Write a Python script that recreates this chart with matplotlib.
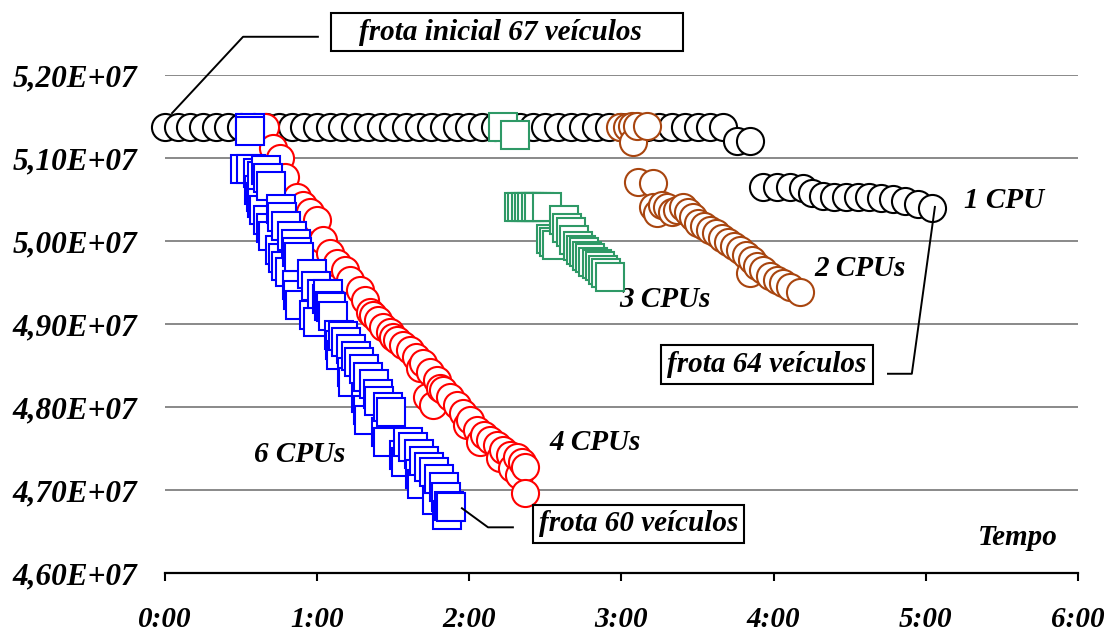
import numpy as np
import matplotlib
matplotlib.use('Agg')
import matplotlib.pyplot as plt
from matplotlib.ticker import FuncFormatter
from matplotlib.patches import Rectangle

plt.rcParams['font.family'] = ['Liberation Serif', 'DejaVu Serif']
plt.rcParams['font.weight'] = 'bold'
plt.rcParams['font.style'] = 'italic'

#------- dados (tempo em minutos, custo em unidades de 1E+07) -------
t_1cpu = [0, 5, 10, 15, 20, 25, 30, 35, 40, 45, 50, 55, 60, 65, 70, 75, 80, 85, 90,
          95, 100, 105, 110, 115, 120, 125, 130, 135, 140, 145, 150, 155, 160, 165,
          170, 175, 180, 185, 190, 195, 200, 205, 210, 215, 220,
          225.5, 230.7,
          235.8, 241.3, 246.4, 251.6,
          255.1, 259.4, 263.8, 268.5, 273.2, 277.6, 282.3, 287.0, 291.8, 296.9, 302.4]
v_1cpu = [5.137, 5.137, 5.137, 5.137, 5.137, 5.137, 5.137, 5.137, 5.137, 5.137, 5.137,
          5.137, 5.137, 5.137, 5.137, 5.137, 5.137, 5.137, 5.137, 5.137, 5.137, 5.137,
          5.137, 5.137, 5.137, 5.137, 5.137, 5.137, 5.137, 5.137, 5.137, 5.137, 5.137,
          5.137, 5.137, 5.137, 5.137, 5.137, 5.137, 5.137, 5.137, 5.137, 5.137, 5.137,
          5.137,
          5.120, 5.120,
          5.065, 5.065, 5.065, 5.064,
          5.058, 5.054, 5.053, 5.053, 5.053, 5.053, 5.052, 5.051, 5.048, 5.045, 5.040]

t_2cpu = [179.4, 182.2, 184.5, 184.1, 186.1, 190.1, 186.5, 192.4,
          192.4, 194.0, 196.0, 197.9, 199.9, 201.9, 204.2, 206.2, 208.2, 210.2,
          212.5, 214.9, 217.3, 219.6, 222.0, 224.4, 226.7, 229.1, 230.7, 231.5,
          233.4, 235.8, 238.6, 241.3, 243.7, 246.4, 250.4]
v_2cpu = [5.137, 5.137, 5.119, 5.139, 5.139, 5.139, 5.071, 5.070,
          5.041, 5.034, 5.043, 5.041, 5.035, 5.037, 5.041, 5.035, 5.029, 5.022,
          5.018, 5.013, 5.010, 5.004, 4.999, 4.994, 4.989, 4.983, 4.961, 4.977,
          4.970, 4.965, 4.958, 4.953, 4.949, 4.945, 4.939]

t_3cpu = [133.3, 138.0, 139.6, 140.8, 142.3, 143.5, 144.7, 146.3, 147.5, 150.6,
          152.2, 153.4, 154.6, 157.3, 158.5, 160.1, 161.3, 162.8, 164.0, 165.2,
          166.4, 167.6, 168.8, 170.3, 171.5, 172.7, 173.9, 175.5]
v_3cpu = [5.137, 5.128, 5.041, 5.041, 5.041, 5.041, 5.041, 5.041, 5.041, 5.041,
          5.002, 4.999, 4.995, 5.025, 5.016, 5.011, 5.001, 4.994, 4.989, 4.987,
          4.982, 4.980, 4.975, 4.972, 4.970, 4.965, 4.961, 4.957]

t_4cpu = [39.4, 42.6, 45.3, 47.3, 52.0, 54.4, 57.2, 59.9, 62.3, 65.1, 67.8, 71.0,
          72.9, 76.9, 78.9, 80.8, 82.0, 84.0, 86.0, 88.7, 89.9, 91.5, 93.8, 96.6,
          99.0, 100.5, 101.7, 103.3, 104.5, 105.7, 107.2, 108.4, 109.6, 112.4, 115.1,
          117.5, 119.1, 120.3, 123.0, 124.2, 125.8, 128.2, 130.9, 132.1, 133.3, 136.0,
          136.8, 138.8, 139.6, 140.8, 141.8, 142.0]
v_4cpu = [5.137, 5.112, 5.100, 5.077, 5.053, 5.043, 5.035, 5.025, 5.001, 4.986, 4.973, 4.965,
          4.953, 4.941, 4.929, 4.914, 4.911, 4.905, 4.896, 4.890, 4.884, 4.881, 4.875, 4.869,
          4.860, 4.847, 4.853, 4.812, 4.842, 4.802, 4.833, 4.823, 4.820, 4.812, 4.802,
          4.793, 4.778, 4.784, 4.772, 4.758, 4.766, 4.760, 4.754, 4.739, 4.748, 4.742,
          4.727, 4.740, 4.718, 4.734, 4.728, 4.696]

t_6cpu = [31.5, 33.5, 33.5, 33.9, 36.7, 37.1, 37.9, 38.2, 38.2, 39.0, 39.8, 40.6, 40.6,
          41.8, 41.8, 42.6, 45.3, 45.7, 46.1, 46.5, 47.7, 47.7, 49.3, 50.1, 51.6, 52.0,
          52.0, 52.4, 52.8, 53.2, 58.0, 58.8, 59.5, 60.3, 61.9, 63.9, 64.3, 64.7, 65.5,
          66.2, 68.6, 69.0, 69.4, 70.2, 71.4, 73.3, 73.7, 74.1, 75.3, 76.5, 78.5, 79.3,
          80.0, 80.0, 80.4, 82.4, 84.0, 84.4, 87.1, 87.9, 87.9, 89.1, 94.2, 95.0, 95.8,
          97.8, 100.2, 100.5, 101.3, 102.1, 104.1, 106.1, 107.2, 108.0, 110.0, 110.8,
          111.2, 112.0, 112.8]
v_6cpu = [5.087, 5.136, 5.133, 5.087, 5.082, 5.061, 5.053, 5.078, 5.046, 5.037, 5.086,
          5.076, 5.025, 5.066, 5.016, 5.006, 4.989, 5.039, 5.029, 4.980, 5.018, 4.970,
          4.963, 5.006, 4.996, 4.987, 4.947, 4.935, 4.981, 4.923, 4.960, 4.911, 4.946,
          4.902, 4.936, 4.930, 4.936, 4.922, 4.920, 4.910, 4.887, 4.875, 4.863, 4.886,
          4.878, 4.870, 4.842, 4.830, 4.861, 4.854, 4.846, 4.811, 4.836, 4.796, 4.784,
          4.828, 4.816, 4.807, 4.770, 4.800, 4.758, 4.794, 4.742, 4.734, 4.758, 4.752,
          4.743, 4.719, 4.707, 4.735, 4.728, 4.722, 4.688, 4.713, 4.704, 4.692, 4.670,
          4.681, 4.680]

y_ticks = [4.60, 4.70, 4.80, 4.90, 5.00, 5.10, 5.20]
x_ticks = [0, 60, 120, 180, 240, 300, 360]
x_labels = ['0:00', '1:00', '2:00', '3:00', '4:00', '5:00', '6:00']


#------- plot -------
fig = plt.figure(figsize=(11.13, 6.32), dpi=100)
ax = fig.add_axes([0.1482, 0.0934, 0.8203, 0.7880])

ax.set_xlim(0, 360)
ax.set_ylim(4.60e7, 5.20e7)

for yy in y_ticks[1:]:
    ax.axhline(yy * 1e7, color='#808080', lw=1.3, zorder=1)

series = [
    (t_1cpu, v_1cpu, 'o', 'black', 19.5),
    (t_2cpu, v_2cpu, 'o', '#A8450F', 19.5),
    (t_3cpu, v_3cpu, 's', '#2E9966', 20),
    (t_4cpu, v_4cpu, 'o', '#FF0000', 19.5),
    (t_6cpu, v_6cpu, 's', '#0000FF', 20.5),
]
for i, (t, v, mk, col, ms) in enumerate(series):
    order = np.argsort(t, kind='stable')
    tt = np.array(t)[order]
    vv = np.array(v)[order] * 1e7
    ax.plot(tt, vv, linestyle='none', marker=mk, ms=ms, mfc='white', mec=col,
            mew=1.5, clip_on=False, zorder=3 + i)

for s in ['left', 'right', 'top']:
    ax.spines[s].set_visible(False)
ax.spines['bottom'].set_linewidth(1.6)
ax.spines['bottom'].set_zorder(2)

ax.set_xticks(x_ticks)
ax.set_xticklabels(x_labels)
ax.set_yticks([y * 1e7 for y in y_ticks])
ax.yaxis.set_major_formatter(FuncFormatter(lambda v, p: '{:.2f}'.format(v / 1e7).replace('.', ',') + 'E+07'))
ax.tick_params(axis='x', direction='out', length=6, width=1.5, pad=18, labelsize=21)
ax.tick_params(axis='y', length=0, pad=20, labelsize=22.5)

txt = dict(fontsize=21, fontweight='bold', fontstyle='italic', ha='center', va='center')
ax.text(330.8, 5.049e7, '1 CPU', **txt)
ax.text(274.0, 4.967e7, '2 CPUs', **txt)
ax.text(197.2, 4.929e7, '3 CPUs', **txt)
ax.text(169.5, 4.757e7, '4 CPUs', **txt)
ax.text(53.2, 4.743e7, '6 CPUs', **txt)
ax.text(336.3, 4.643e7, 'Tempo', **txt)

# caixa larga da frota inicial
ax.add_patch(Rectangle((65.5, 5.2289e7), 204.2 - 65.5, 5.2747e7 - 5.2289e7, fc='white',
                       ec='black', lw=1.5, clip_on=False, zorder=10))
ax.text(132.1, 5.2506e7, 'frota inicial 67 veículos', zorder=11, **txt)

box = dict(boxstyle='square,pad=0.2', fc='white', ec='black', lw=1.5)
ax.text(237.4, 4.851e7, 'frota 64 veículos', bbox=box, zorder=10, **txt)
ax.text(186.7, 4.659e7, 'frota 60 veículos', bbox=box, zorder=10, **txt)

# linhas de chamada
ax.plot([60.3, 30.8, 2.8], [5.246e7, 5.246e7, 5.154e7], color='black', lw=1.4, clip_on=False, zorder=9)
ax.plot([285.1, 294.5, 303.6], [4.840e7, 4.840e7, 5.041e7], color='black', lw=1.4, clip_on=False, zorder=9)
ax.plot([137.2, 127.4, 117.1], [4.655e7, 4.655e7, 4.678e7], color='black', lw=1.4, clip_on=False, zorder=9)

fig.savefig('out.png', dpi=100)
